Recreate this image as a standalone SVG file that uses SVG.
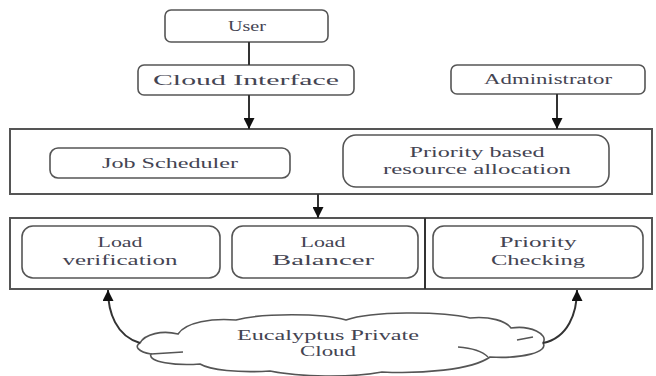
<svg xmlns="http://www.w3.org/2000/svg" width="656" height="376" viewBox="0 0 656 376">
<defs>
<marker id="ah2" viewBox="0 0 10 10" refX="10" refY="5" markerWidth="11" markerHeight="11" orient="auto" markerUnits="userSpaceOnUse">
<path d="M0,0 L10,5 L0,10 Z" fill="#111"/>
</marker>
<style>
.box{fill:#fff;stroke:#555;stroke-width:1.6}
.frame{fill:#fff;stroke:#555;stroke-width:2}
.t{font-family:"Liberation Serif","Times New Roman",serif;font-size:14px;fill:#444452;text-anchor:middle}
.ln{fill:none;stroke:#333;stroke-width:2}
.cl{fill:#fff;stroke:#555;stroke-width:1.6}
</style>
</defs>
<rect width="656" height="376" fill="#fff"/>

<g id="frame1"><rect class="frame" x="10" y="129" width="642" height="65"/></g>
<g id="frame2"><rect class="frame" x="10" y="218" width="642" height="71"/><line x1="425" y1="218" x2="425" y2="289" stroke="#333" stroke-width="2"/></g>

<g id="user"><rect class="box" x="165" y="10" width="163" height="32" rx="6"/><text class="t" x="247" y="31" textLength="38" lengthAdjust="spacingAndGlyphs">User</text></g>
<g id="cloudInterface"><rect class="box" x="138" y="65" width="216" height="30" rx="6"/><text class="t" x="246" y="85" textLength="186" lengthAdjust="spacingAndGlyphs">Cloud Interface</text></g>
<g id="administrator"><rect class="box" x="451" y="65" width="194" height="29" rx="6"/><text class="t" x="548" y="84" textLength="128" lengthAdjust="spacingAndGlyphs">Administrator</text></g>
<g id="jobScheduler"><rect class="box" x="50" y="148" width="240" height="30" rx="8"/><text class="t" x="170" y="168" textLength="136" lengthAdjust="spacingAndGlyphs">Job Scheduler</text></g>
<g id="priorityAllocation"><rect class="box" x="343" y="135" width="266" height="52" rx="13"/><text class="t" x="477" y="157" textLength="135" lengthAdjust="spacingAndGlyphs">Priority based</text><text class="t" x="477" y="174" textLength="188" lengthAdjust="spacingAndGlyphs">resource allocation</text></g>
<g id="loadVerification"><rect class="box" x="22" y="226" width="198" height="52" rx="11"/><text class="t" x="120" y="247" textLength="45" lengthAdjust="spacingAndGlyphs">Load</text><text class="t" x="120" y="265" textLength="115" lengthAdjust="spacingAndGlyphs">verification</text></g>
<g id="loadBalancer"><rect class="box" x="232" y="226" width="186" height="52" rx="11"/><text class="t" x="323" y="247" textLength="45" lengthAdjust="spacingAndGlyphs">Load</text><text class="t" x="323" y="265" textLength="102" lengthAdjust="spacingAndGlyphs">Balancer</text></g>
<g id="priorityChecking"><rect class="box" x="433" y="226" width="210" height="52" rx="11"/><text class="t" x="538" y="247" textLength="77" lengthAdjust="spacingAndGlyphs">Priority</text><text class="t" x="538" y="265" textLength="94" lengthAdjust="spacingAndGlyphs">Checking</text></g>

<g id="eucalyptus">
<path class="cl" d="M140,343 C145,334 162,330 178,334 C186,322 212,318 236,320 C262,313 322,313 346,320 C372,311 440,311 470,318 C490,316 506,321 511,328 C530,325 549,334 543,343 C549,352 522,359 490,357 C472,370 420,374 382,372 C350,378 300,377 270,371 C238,373 210,370 200,364 C176,366 147,362 151,354 C138,352 134,346 140,343 Z"/>
<path d="M151,354 L183,352 M517,340 L533,337 M458,347 C472,348 482,351 488,357" fill="none" stroke="#555" stroke-width="1.4"/>
<text class="t" x="328" y="340" textLength="182" lengthAdjust="spacingAndGlyphs">Eucalyptus Private</text>
<text class="t" x="328" y="356" textLength="56" lengthAdjust="spacingAndGlyphs">Cloud</text>
</g>

<g id="connectors">
<line class="ln" x1="249" y1="42" x2="249" y2="65"/>
<line class="ln" x1="249" y1="95" x2="249" y2="129" marker-end="url(#ah2)"/>
<line class="ln" x1="557" y1="94" x2="557" y2="129" marker-end="url(#ah2)"/>
<line class="ln" x1="318" y1="194" x2="318" y2="218" marker-end="url(#ah2)"/>
<path class="ln" d="M140,343 C116,336 108,312 108,290" marker-end="url(#ah2)"/>
<path class="ln" d="M543,343 C568,338 577,313 577,290" marker-end="url(#ah2)"/>
</g>
</svg>
